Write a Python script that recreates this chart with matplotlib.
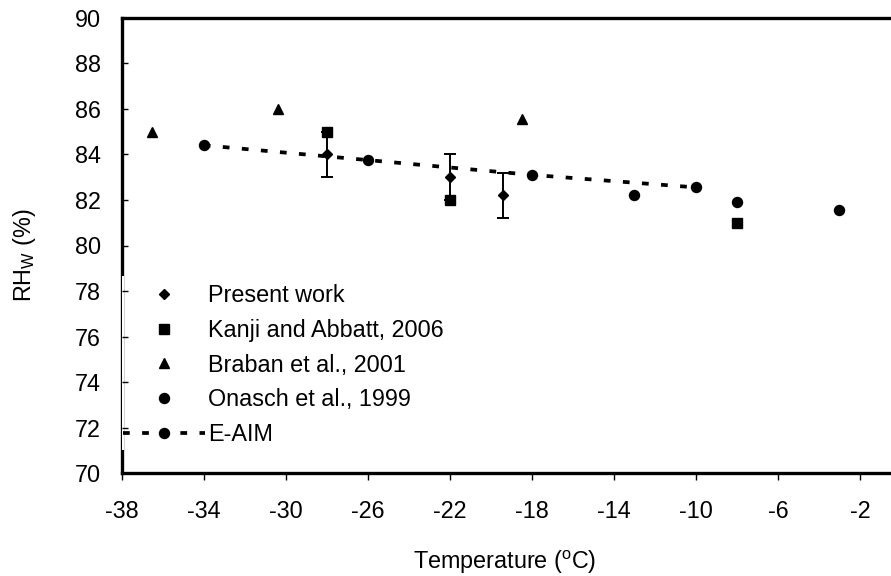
import matplotlib
matplotlib.use("Agg")
import matplotlib.pyplot as plt
import matplotlib.transforms as mtransforms
from matplotlib.patches import Rectangle
from matplotlib.lines import Line2D

plt.rcParams['font.family'] = ['Liberation Sans', 'DejaVu Sans']
plt.rcParams['mathtext.fontset'] = 'custom'
plt.rcParams['mathtext.rm'] = 'Liberation Sans'

# Data
present_T = [-28, -22, -19.4]
present_RH = [84.0, 83.0, 82.2]
present_err = [1.0, 1.0, 1.0]

kanji_T = [-28, -22, -8]
kanji_RH = [85.0, 82.0, 81.0]

braban_T = [-36.5, -30.4, -18.5]
braban_RH = [85.0, 86.0, 85.55]

onasch_T = [-13, -8, -3]
onasch_RH = [82.2, 81.9, 81.55]

eaim_T = [-34, -26, -18, -10]
eaim_RH = [84.4, 83.75, 83.1, 82.55]

xticks = [-38, -34, -30, -26, -22, -18, -14, -10, -6, -2]
yticks = [70, 72, 74, 76, 78, 80, 82, 84, 86, 88, 90]

FS = 16.8
fig = plt.figure(figsize=(8.91, 5.76), dpi=100)
W, H = 891, 576
ax = fig.add_axes([121.7 / W, 102.7 / H, 779.3 / W, 455.6 / H])

dash = (0, (1.8, 3.3))
ax.plot(eaim_T, eaim_RH, color='black', linestyle=dash, linewidth=2.7,
        marker='o', markersize=7.2, zorder=3)
ax.errorbar(present_T, present_RH, yerr=present_err, fmt='D', color='black',
            markersize=5.3, ecolor='black', elinewidth=1.4, capsize=4.4,
            capthick=1.4, zorder=4)
ax.plot(kanji_T, kanji_RH, 's', color='black', markersize=6.7, zorder=5)
ax.plot(braban_T, braban_RH, '^', color='black', markersize=7.6, zorder=5)
ax.plot(onasch_T, onasch_RH, 'o', color='black', markersize=7.2, zorder=5)

ax.set_xlim(-38, 0)
ax.set_ylim(70, 90)
ax.set_xticks(xticks)
ax.set_xticklabels([str(v) for v in xticks])
ax.set_yticks(yticks)
ax.set_yticklabels([str(v) for v in yticks])

for side in ['left', 'bottom', 'top']:
    ax.spines[side].set_linewidth(2.4)
ax.spines['right'].set_visible(False)

ax.tick_params(axis='x', direction='out', length=5, width=1, pad=14, labelsize=FS)
ax.tick_params(axis='y', direction='in', length=4.5, width=1, pad=15, labelsize=FS)
ax.yaxis.set_zorder(3)

# legend background partially hiding the left spine
blend = mtransforms.blended_transform_factory(ax.transAxes, ax.transData)
ax.add_patch(Rectangle((0, 71.02), 0.0025, 78.64 - 71.02, transform=blend,
                       facecolor='white', edgecolor='none', zorder=2.6, clip_on=False))

proxies = [
    Line2D([], [], linestyle='none', marker='D', color='black', markersize=5.3),
    Line2D([], [], linestyle='none', marker='s', color='black', markersize=6.7),
    Line2D([], [], linestyle='none', marker='^', color='black', markersize=7.6),
    Line2D([], [], linestyle='none', marker='o', color='black', markersize=7.2),
    Line2D([], [], linestyle=dash, linewidth=2.7, marker='o', color='black', markersize=7.2),
]
labels = ['Present work', 'Kanji and Abbatt, 2006', 'Braban et al., 2001',
          'Onasch et al., 1999', 'E-AIM']
leg = ax.legend(proxies, labels,
                loc='center left', bbox_to_anchor=(0.002, 74.75), bbox_transform=blend,
                frameon=False, fontsize=FS, borderpad=0, borderaxespad=0,
                handlelength=3.5, handletextpad=0.15, labelspacing=0.5,
                numpoints=1)

ax.set_xlabel(r'Temperature ($^\mathregular{o}$C)', fontsize=FS, va='center')
ax.xaxis.set_label_coords(0.4919, -0.1947)
ax.set_ylabel(r'RH$_\mathregular{W}$ (%)', fontsize=FS, va='center')
ax.yaxis.set_label_coords(-0.1241, 0.479)

fig.savefig('out.png', dpi=100)
